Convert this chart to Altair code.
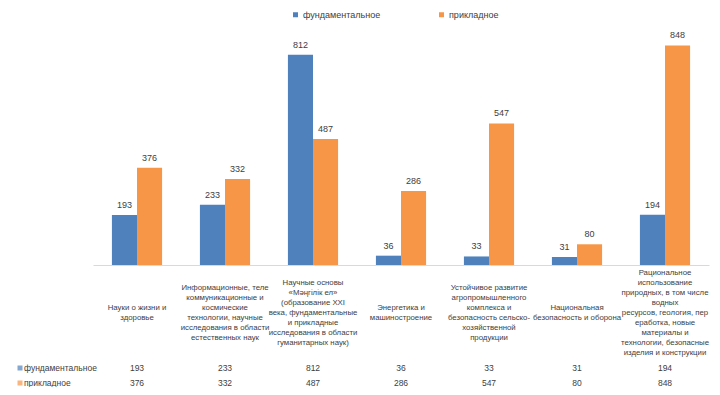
import altair as alt
import pandas as pd

categories = [
    "Науки о жизни и|здоровье",
    "Информационные, теле|коммуникационные и|космические|технологии, научные|исследования в области|естественных наук",
    "Научные основы|«Мәңгілік ел»|(образование XXI|века, фундаментальные|и прикладные|исследования в области|гуманитарных наук)",
    "Энергетика и|машиностроение",
    "Устойчивое развитие|агропромышленного|комплекса и|безопасность сельско-|хозяйственной|продукции",
    "Национальная|безопасность и оборона",
    "Рациональное|использование|природных, в том числе|водных|ресурсов, геология, пер|еработка, новые|материалы и|технологии, безопасные|изделия и конструкции",
]
series = ["фундаментальное", "прикладное"]
fundamental = [193, 233, 812, 36, 33, 31, 194]
applied = [376, 332, 487, 286, 547, 80, 848]
colors = ["#4F81BD", "#F79646"]

rows = []
for i, c in enumerate(categories):
    rows.append({"cat": c, "series": series[0], "value": fundamental[i]})
    rows.append({"cat": c, "series": series[1], "value": applied[i]})
long_df = pd.DataFrame(rows)
wide_df = pd.DataFrame({"cat": categories, "f": fundamental, "a": applied})

FONT = "Liberation Sans"
TXT = "#404040"
LINE_H = 10

x_enc = alt.X(
    "cat:N",
    sort=categories,
    scale=alt.Scale(paddingInner=0.43, paddingOuter=0.215),
    axis=alt.Axis(
        title=None,
        labels=False,
        ticks=False,
        domainColor="#D9D9D9",
        domainWidth=1,
    ),
)
x_plain = alt.X("cat:N", sort=categories)
y_enc = alt.Y("value:Q", scale=alt.Scale(domain=[0, 900]), axis=None)
xoff = alt.XOffset("series:N", sort=series, scale=alt.Scale(paddingInner=0, paddingOuter=0))

base = alt.Chart(long_df)

bars = base.mark_bar().encode(
    x=x_enc,
    xOffset=xoff,
    y=y_enc,
    color=alt.Color(
        "series:N",
        sort=series,
        scale=alt.Scale(domain=series, range=colors),
        legend=alt.Legend(
            title=None,
            orient="none",
            legendX=198,
            legendY=-22,
            direction="horizontal",
            symbolType="square",
            symbolSize=25,
            symbolStrokeWidth=0,
            labelFontSize=9,
            labelColor=TXT,
            labelOffset=3,
            columnPadding=56,
            padding=0,
        ),
    ),
)

labels = base.mark_text(baseline="bottom", dy=-5, fontSize=9, color=TXT).encode(
    x=x_plain,
    xOffset=xoff,
    y=y_enc,
    text=alt.Text("value:Q"),
)

tbl = alt.Chart(wide_df)

cat_labels = tbl.transform_calculate(
    off=f"-(length(split(datum.cat, '|')) - 1) * {LINE_H} / 2"
).mark_text(
    fontSize=7.8, color=TXT, baseline="middle", align="center",
    lineBreak="|", lineHeight=LINE_H,
).encode(
    x=x_plain,
    y=alt.value(281),
    yOffset=alt.YOffset("off:Q", scale=None),
    text="cat:N",
)

row_f = tbl.mark_text(fontSize=8.5, color=TXT, baseline="middle").encode(
    x=x_plain, y=alt.value(336), text="f:Q"
)
row_a = tbl.mark_text(fontSize=8.5, color=TXT, baseline="middle").encode(
    x=x_plain, y=alt.value(351), text="a:Q"
)

def row_label(i, ypix):
    d = pd.DataFrame({"s": [series[i]]})
    sq = alt.Chart(d).mark_square(size=25, color=colors[i]).encode(
        x=alt.value(-73), y=alt.value(ypix)
    )
    tx = alt.Chart(d).mark_text(
        align="left", baseline="middle", fontSize=8.5, color=TXT
    ).encode(x=alt.value(-69), y=alt.value(ypix), text="s:N")
    return sq + tx

chart = alt.layer(
    bars, labels, cat_labels, row_f, row_a, row_label(0, 336), row_label(1, 351)
).properties(
    width=616,
    height=233,
    autosize=alt.AutoSizeParams(type="none"),
    padding={"left": 85, "top": 24, "right": 3, "bottom": 122},
).configure(font=FONT).configure_view(stroke=None)

chart.save("out.html", embed_options={"renderer": "svg", "actions": False})
